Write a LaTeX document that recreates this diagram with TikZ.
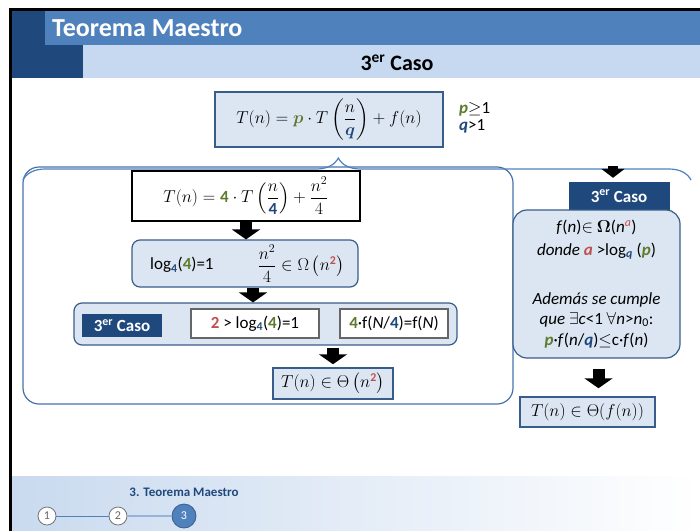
\documentclass[tikz,border=0pt]{standalone}
\usepackage{amsmath}
\usepackage{fontspec}
\setmainfont{Carlito}
\usepackage{tikz}
\usetikzlibrary{positioning, arrows.meta, calc, decorations.pathreplacing}

\definecolor{darkblue}{HTML}{1F487C}
\definecolor{midblue}{HTML}{4F81BD}
\definecolor{barblue}{HTML}{C6D9F1}
\definecolor{boxfill}{HTML}{DCE6F2}
\definecolor{edgeblue}{HTML}{385D8A}
\definecolor{bigedge}{HTML}{4672AC}
\definecolor{footblue}{HTML}{C9DAEF}
\definecolor{pgreen}{HTML}{5F7A2E}
\definecolor{qblue}{HTML}{1F497D}
\definecolor{ared}{HTML}{C0504D}

\newcommand{\txtsize}{\fontsize{17}{21}\selectfont}
\newcommand{\pvar}{\textcolor{pgreen}{\boldsymbol{p}}}
\newcommand{\qvar}{\textcolor{qblue}{\boldsymbol{q}}}
\newcommand{\ptxt}{\textcolor{pgreen}{\textbf{\textit{p}}}}
\newcommand{\qtxt}{\textcolor{qblue}{\textbf{\textit{q}}}}
\newcommand{\logfour}{log\textsubscript{\textcolor{qblue}{\textbf{4}}}(\textcolor{pgreen}{\textbf{4}})=1}

\begin{document}
\begin{tikzpicture}[x=1pt, y=-1pt,
        box/.style={draw=edgeblue, fill=boxfill, line width=1.2pt, inner sep=0pt, align=center, font=\txtsize},
        rbox/.style={box, rounded corners=8pt},
        plain/.style={draw, fill=white, line width=1.2pt, inner sep=0pt, font=\txtsize},
        caso/.style={fill=darkblue, text=white, inner sep=0pt, font=\bfseries\txtsize},
        blk/.style={black, line width=12pt, -{Triangle[width=28pt, length=10pt]}},
        stepdot/.style={circle, draw=black!55, fill=white, line width=0.8pt, minimum size=18pt, inner sep=0pt, text=black!60, font=\fontsize{12}{14}\selectfont}
    ]
    \useasboundingbox (0,0) rectangle (700,530);

    % header bars
    \fill[darkblue] (12,10) rectangle (83,78);
    \fill[midblue] (45,10) rectangle (700,45);
    \fill[barblue] (83,45) rectangle (700,78);
    \draw[line width=3pt] (10,531) -- (10,9) -- (701,9);
    \node[anchor=base west, inner sep=0pt, text=white, font=\bfseries\fontsize{26}{30}\selectfont] (title) at (52,36) {Teorema Maestro};
    \node[anchor=base, inner sep=0pt, font=\bfseries\fontsize{22}{26}\selectfont] (sub) at (397,70) {3\textsuperscript{er} Caso};

    % general form
    \node[box, minimum width=228pt, minimum height=55pt] (gen) at (329,119.5)
        {$T(n) = \pvar\cdot T\left(\dfrac{n}{\qvar}\right) + f(n)$};
    \node[anchor=west, align=left, inner sep=0pt, font=\fontsize{17}{17}\selectfont] (cond0) at (459,118)
        {\ptxt$\geq$1\\ \qtxt>1};

    % left: worked example
    \node[draw=bigedge, fill=white, line width=1.2pt, rounded corners=16pt, minimum width=490pt, minimum height=237pt] (ex) at (268,285.5) {};
    \draw[midblue, line width=1.2pt, decorate, decoration={brace, amplitude=22pt, aspect=0.472}] (23,180) -- (691,180);

    \node[plain, minimum width=228pt, minimum height=50pt] (eq) at (246,196)
        {$T(n) = \textcolor{pgreen}{\mathbf{4}}\cdot T\left(\dfrac{n}{\textcolor{qblue}{\mathbf{4}}}\right) + \dfrac{n^2}{4}$};
    \node[rbox, minimum width=226pt, minimum height=47pt] (lg) at (245,263.5) {};
    \node[anchor=west, inner sep=0pt, font=\txtsize] (lgl) at (150,265) {\logfour};
    \node[inner sep=0pt, font=\txtsize] (lgr) at (301,264) {$\dfrac{n^2}{4}\in\Omega\left(n^{\textcolor{ared}{\mathbf{2}}}\right)$};

    \node[rbox, minimum width=383pt, minimum height=42pt] (c3) at (265.5,324) {};
    \node[caso, minimum width=80pt, minimum height=23pt] (c3a) at (122,325.5) {3\textsuperscript{er} Caso};
    \node[plain, draw=black!60, minimum width=128pt, minimum height=29pt] (c3b) at (255,323.5)
        {\textcolor{ared}{\textbf{2}} > \logfour};
    \node[plain, draw=black!60, minimum width=108pt, minimum height=29pt] (c3c) at (394,323.5)
        {\textcolor{pgreen}{\textbf{4}}·f(\textit{N}/\textcolor{qblue}{\textbf{4}})=f(\textit{N})};

    \node[box, line width=1.5pt, minimum width=120pt, minimum height=31pt] (res1) at (333,383.5)
        {$T(n)\in\Theta\left(n^{\textcolor{ared}{\mathbf{2}}}\right)$};

    \draw[blk] (eq.south) -- (eq.south |- lg.north);
    \draw[blk] ([xshift=8pt]lg.south) -- ([xshift=8pt]lg.south |- c3.north);
    \draw[blk, shorten <=2pt, shorten >=3pt] (res1.north |- c3.south) -- (res1.north);

    % right: general rule
    \node[caso, minimum width=101pt, minimum height=28pt] (c3r) at (619,196) {3\textsuperscript{er} Caso};
    \node[box, rounded corners=14pt, minimum width=167pt, minimum height=148pt] (rule) at (596.5,284)
        {\textit{f}(\textit{n})$\in$ $\boldsymbol{\Omega}$(\textit{n}\textsuperscript{\textcolor{ared}{\textit{a}}})\\[2pt]
         \textit{donde} \textcolor{ared}{\textbf{\textit{a}}} >log\textsubscript{\qtxt} (\ptxt)\\[28pt]
         \textit{Además se cumple}\\[-1pt]
         \textit{que} $\exists$\textit{c}<1 $\forall$\textit{n}>\textit{n}\textsubscript{0}:\\
         \ptxt·\textit{f}(\textit{n}/\qtxt)$\leq$c·\textit{f}(\textit{n})};
    \node[box, line width=1.5pt, minimum width=135pt, minimum height=30pt] (res2) at (587.5,412)
        {$T(n)\in\Theta(f(n))$};

    \coordinate (rtop) at (613,166);
    \draw[blk, line width=10pt, -{Triangle[width=23pt, length=9pt]}, shorten >=4pt] (rtop) -- (rtop |- c3r.north);
    \draw[blk, shorten <=10pt, shorten >=8pt] ([xshift=2pt]rule.south) -- ([xshift=2pt]rule.south |- res2.north);

    % footer
    \shade[left color=footblue, right color=white] (12,476) rectangle (700,530);
    \node[text=darkblue, inner sep=0pt, font=\bfseries\fontsize{13}{15}\selectfont] (ftxt) at (184,492) {3. Teorema Maestro};
    \node[stepdot] (s1) at (47,516) {1};
    \node[stepdot] (s2) at (118,516) {2};
    \node[stepdot, draw=edgeblue, fill=midblue, text=white, minimum size=24pt] (s3) at (184,516) {3};
    \draw[midblue, line width=0.8pt] (s1) -- (s2);
    \draw[midblue!60, line width=1.5pt] (s2) -- (s3);
\end{tikzpicture}
\end{document}
